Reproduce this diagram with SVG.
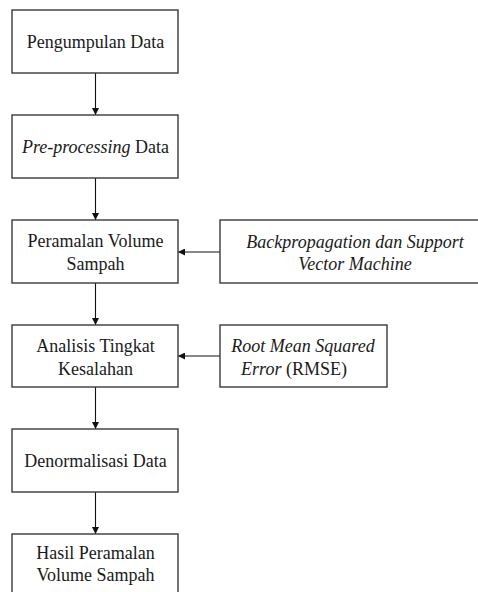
<svg xmlns="http://www.w3.org/2000/svg" width="478" height="592" viewBox="0 0 478 592">
<style>
.box{fill:#fff;stroke:#3a3a3a;stroke-width:1.4}
.t{font-family:"Liberation Serif","Times New Roman",serif;font-size:18px;fill:#1a1a1a;text-anchor:middle}
.i{font-style:italic}
.c{stroke:#111;stroke-width:1.1;fill:none}
</style>
<defs>
<marker id="ah" viewBox="0 0 10 10" refX="10" refY="5" markerWidth="7" markerHeight="7" markerUnits="userSpaceOnUse" orient="auto">
<path d="M0,0 L10,5 L0,10 Z" fill="#111"/>
</marker>
</defs>
<rect width="478" height="592" fill="#fff"/>
<g id="connectors">
<line class="c" x1="95.5" y1="73" x2="95.5" y2="115" marker-end="url(#ah)"/>
<line class="c" x1="95.5" y1="178" x2="95.5" y2="220" marker-end="url(#ah)"/>
<line class="c" x1="95.5" y1="283" x2="95.5" y2="325" marker-end="url(#ah)"/>
<line class="c" x1="95.5" y1="387" x2="95.5" y2="429" marker-end="url(#ah)"/>
<line class="c" x1="95.5" y1="492" x2="95.5" y2="534" marker-end="url(#ah)"/>
<line class="c" x1="220" y1="252" x2="178" y2="252" marker-end="url(#ah)"/>
<line class="c" x1="220" y1="356" x2="178" y2="356" marker-end="url(#ah)"/>
</g>
<g id="n1"><rect class="box" x="12" y="10" width="166" height="63"/><text class="t" x="95.5" y="48">Pengumpulan Data</text></g>
<g id="n2"><rect class="box" x="12" y="115" width="166" height="63"/><text class="t" x="95.5" y="153"><tspan class="i">Pre-processing</tspan> Data</text></g>
<g id="n3"><rect class="box" x="12" y="220" width="166" height="63"/><text class="t" x="95.5" y="247">Peramalan Volume</text><text class="t" x="95.5" y="270">Sampah</text></g>
<g id="n4"><rect class="box" x="220" y="220" width="272" height="63"/><text class="t i" x="355" y="248">Backpropagation dan Support</text><text class="t i" x="355" y="270">Vector Machine</text></g>
<g id="n5"><rect class="box" x="12" y="325" width="166" height="62"/><text class="t" x="95.5" y="352">Analisis Tingkat</text><text class="t" x="95.5" y="375">Kesalahan</text></g>
<g id="n6"><rect class="box" x="220" y="325" width="167" height="62"/><text class="t i" x="303" y="352">Root Mean Squared</text><text class="t" x="294" y="375"><tspan class="i">Error</tspan> (RMSE)</text></g>
<g id="n7"><rect class="box" x="12" y="429" width="166" height="63"/><text class="t" x="95.5" y="467">Denormalisasi Data</text></g>
<g id="n8"><rect class="box" x="12" y="534" width="166" height="70"/><text class="t" x="95.5" y="559">Hasil Peramalan</text><text class="t" x="95.5" y="581">Volume Sampah</text></g>
</svg>
